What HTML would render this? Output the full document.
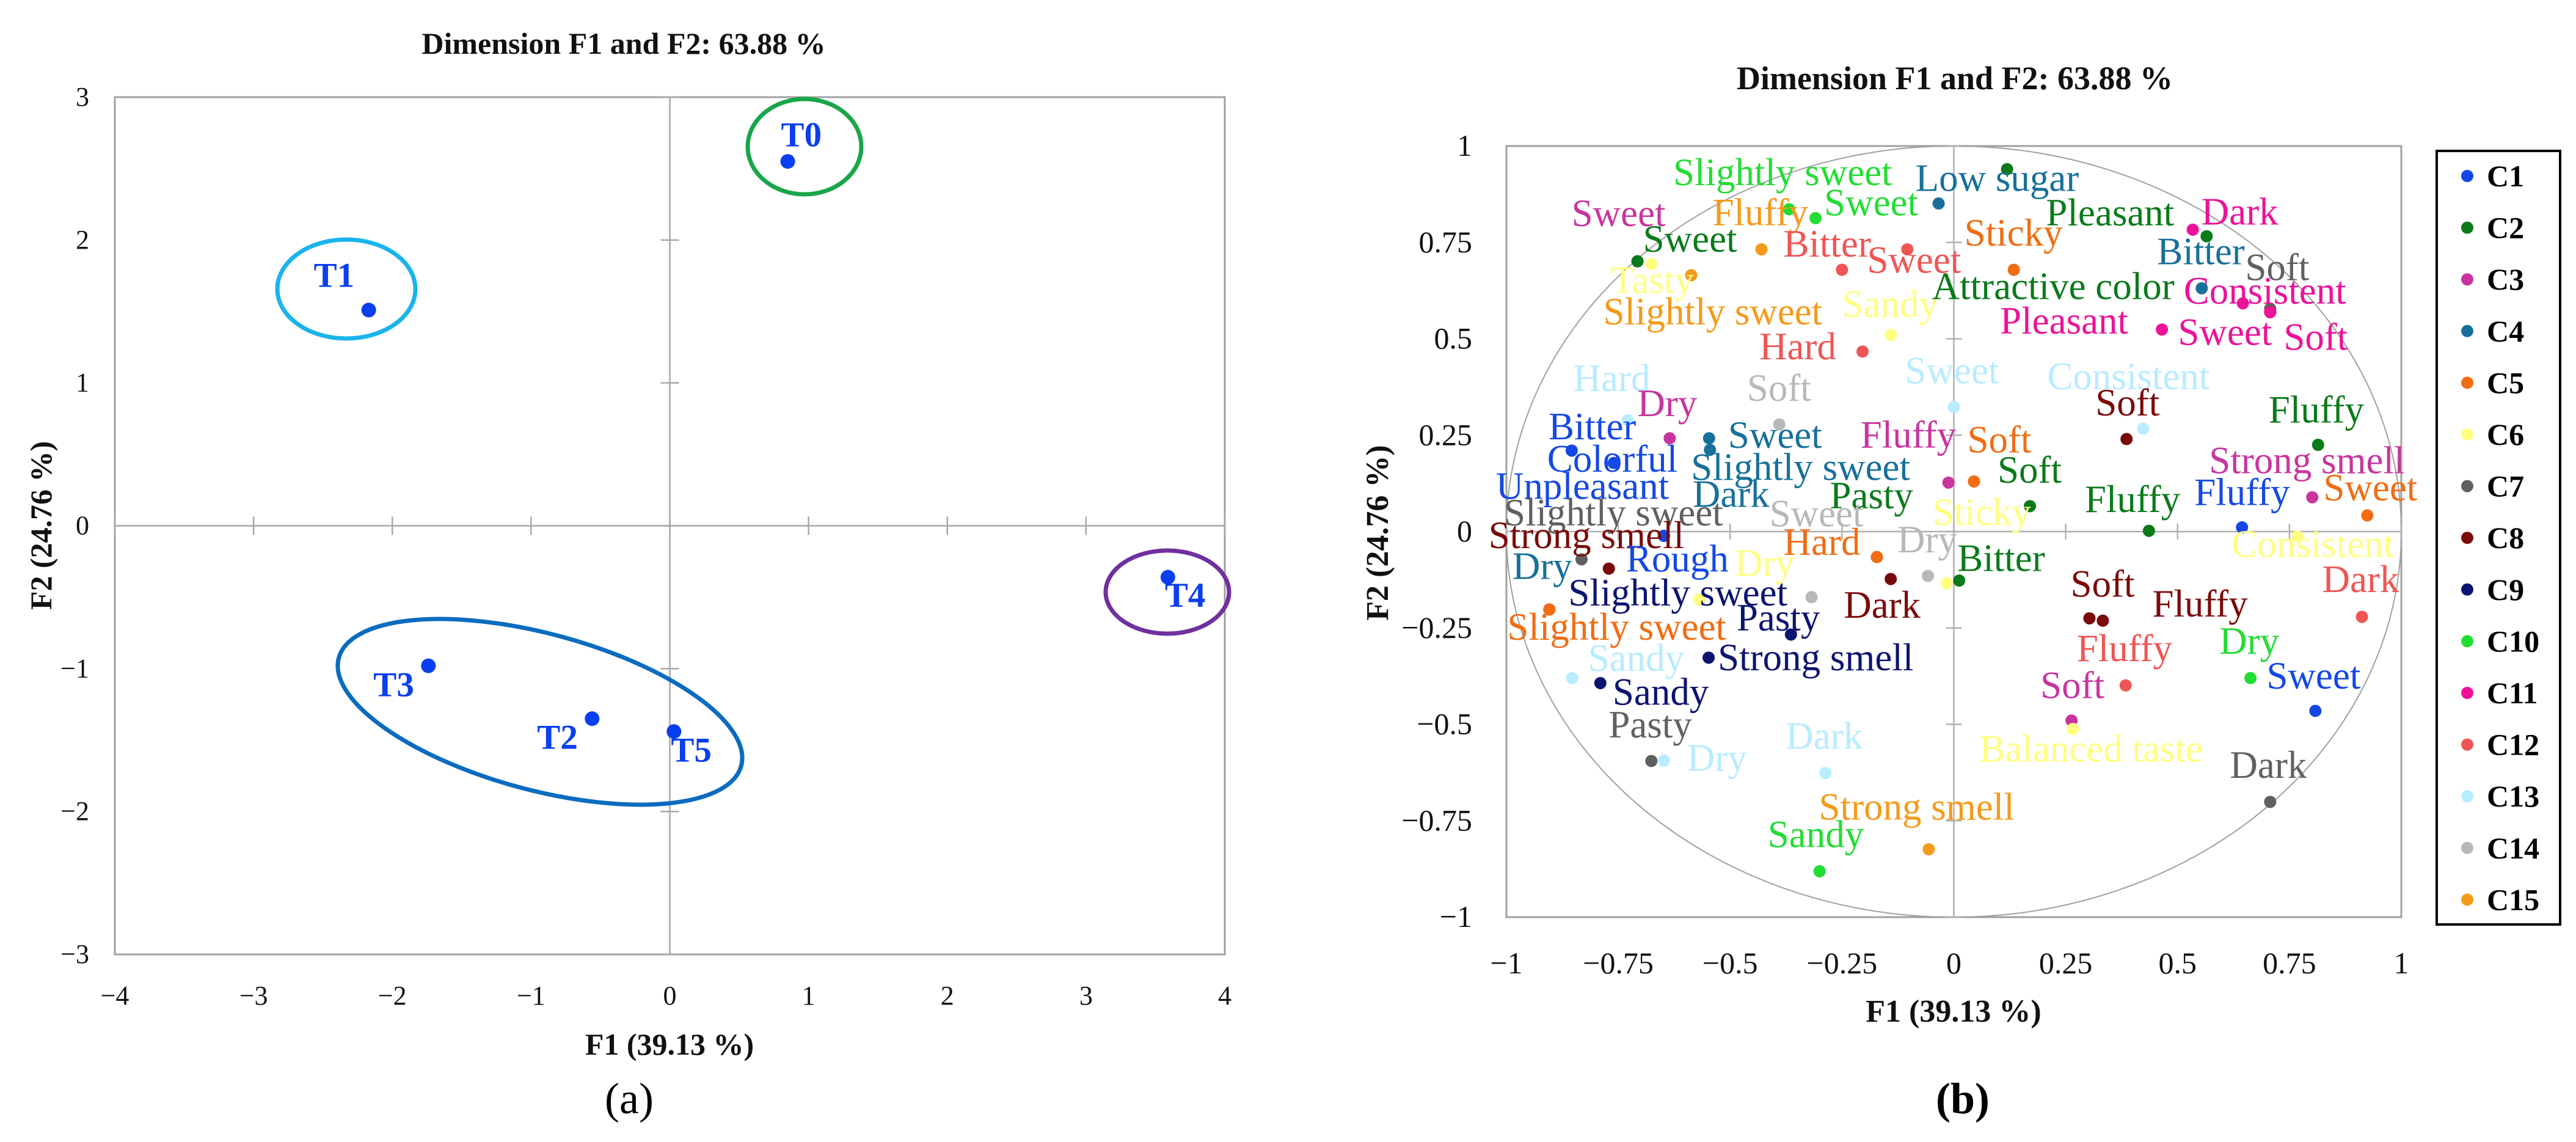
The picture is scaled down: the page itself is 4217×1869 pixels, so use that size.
<!DOCTYPE html>
<html><head><meta charset="utf-8"><style>
html,body{margin:0;padding:0;background:#fff;}
svg{display:block;font-family:"Liberation Serif",serif;}
</style></head><body>
<svg id="chart" width="4217" height="1869" viewBox="0 0 4217 1869" xmlns="http://www.w3.org/2000/svg">
<g id="pa"></g>
<g id="pb"></g>
</svg>
<script>
// ---------- Panel (a) data ----------
const aLabels = ["T0","T1","T3","T2","T5","T4"];
const aF1 = [0.85,-2.17,-1.74,-0.56,0.03,3.59];
const aF2 = [2.55,1.51,-0.98,-1.35,-1.44,-0.36];
const aTicksX = [-4,-3,-2,-1,0,1,2,3,4];
const aTicksY = [-3,-2,-1,0,1,2,3];

// ---------- Panel (b) data ----------
const bClasses = ["C1","C2","C3","C4","C5","C6","C7","C8","C9","C10","C11","C12","C13","C14","C15"];
const bClassColors = ["#1448e6","#0a7a1a","#c8359e","#17709a","#f26c12","#ffff80","#606060","#7a0a0a","#0c1470","#22dd33","#ee1199","#f05555","#b8ecff","#b8b8b8","#f59a1a"];
const bLabels = ["Slightly sweet","Low sugar","Sweet","Fluffy","Sweet","Sweet","Bitter","Sweet","Sticky","Pleasant","Dark","Bitter","Soft","Consistent","Tasty","Slightly sweet","Sandy","Attractive color","Pleasant","Sweet","Soft","Hard","Hard","Dry","Soft","Sweet","Consistent","Soft","Fluffy","Bitter","Sweet","Colorful","Slightly sweet","Fluffy","Soft","Soft","Strong smell","Sweet","Unpleasant","Dark","Pasty","Fluffy","Fluffy","Slightly sweet","Sweet","Sticky","Consistent","Strong smell","Dry","Rough","Dry","Hard","Dry","Bitter","Dark","Slightly sweet","Slightly sweet","Pasty","Soft","Fluffy","Dark","Sandy","Strong smell","Sandy","Fluffy","Dry","Sweet","Soft","Balanced taste","Pasty","Dry","Dark","Dark","Strong smell","Sandy"];
const bClassIdx = [10,4,3,15,10,2,12,12,5,2,11,4,7,11,6,15,6,2,11,11,11,12,13,3,14,13,13,8,2,1,4,1,4,3,5,2,3,5,1,4,2,2,1,7,14,6,6,8,4,1,6,5,14,2,8,9,5,9,8,8,12,13,9,9,12,10,1,3,6,7,13,13,7,15,10];
const bF1 = [-0.368,-0.034,-0.707,-0.430,-0.309,-0.707,-0.250,-0.104,0.134,0.565,0.534,0.554,0.707,0.646,-0.676,-0.587,-0.141,0.119,0.465,0.707,0.707,-0.204,-0.729,-0.635,-0.390,0.0,0.423,0.386,0.814,-0.854,-0.547,-0.760,-0.545,-0.012,0.045,0.170,0.801,0.924,-0.648,-0.648,-0.172,0.436,0.644,-0.832,-0.318,-0.016,0.768,-0.771,-0.648,-0.648,-0.569,-0.172,-0.058,0.012,-0.141,-0.904,-0.904,-0.364,0.303,0.333,0.912,-0.853,-0.548,-0.790,0.384,0.663,0.808,0.263,0.266,-0.676,-0.648,-0.287,0.707,-0.056,-0.300];
const bF2 = [0.836,0.851,0.701,0.732,0.813,0.701,0.679,0.732,0.679,0.766,0.783,0.631,0.578,0.592,0.694,0.665,0.510,0.940,0.524,0.569,0.569,0.467,0.289,0.242,0.278,0.323,0.267,0.240,0.225,0.210,0.242,0.178,0.212,0.127,0.130,0.066,0.089,0.042,-0.011,-0.011,-0.066,0.002,0.011,-0.072,-0.170,-0.134,-0.013,-0.096,-0.011,-0.011,-0.176,-0.066,-0.115,-0.127,-0.123,-0.202,-0.202,-0.267,-0.225,-0.231,-0.221,-0.380,-0.327,-0.393,-0.399,-0.380,-0.465,-0.490,-0.512,-0.595,-0.594,-0.626,-0.701,-0.824,-0.881];
// label offsets (pixels, styling only)
const bLabDX = [-190,-38,-108,-80,14,9,-96,-66,-81,-263,14,-73,-41,-97,-66,-144,-80,-123,-265,-151,22,-169,-89,-53,-53,-80,-157,-51,-81,-38,31,-109,-31,-144,-11,-53,-169,-72,-275,47,-77,-105,-78,-127,-69,-23,-108,-197,-248,-62,58,-153,-50,-3,-77,31,-69,-89,-31,81,-65,26,15,20,-80,-51,-80,-51,-153,-70,38,-65,-66,-180,-85];
const bLabDY = [-54,-35,-72,-54,-19,-30,-36,24,-54,-32,-23,-54,-61,-14,33,66,-44,198,-8,39,47,-2,-62,-51,-53,-53,-79,-53,-51,-33,1,0,35,-72,-62,-53,-54,-39,-75,-62,-94,-45,-51,-70,-130,-110,19,-48,56,44,-53,-18,-53,-30,49,-21,35,-21,-50,-21,-55,-26,6,21,-54,-54,-51,-51,39,-53,2,-54,-54,-63,-54];
const bTicks = [-1,-0.75,-0.5,-0.25,0,0.25,0.5,0.75,1];
const bTickText = ["\u22121","\u22120.75","\u22120.5","\u22120.25","0","0.25","0.5","0.75","1"];

const NS="http://www.w3.org/2000/svg";
function mk(parent,tag,attrs,text){const e=document.createElementNS(NS,tag);for(const k in attrs)e.setAttribute(k,attrs[k]);if(text!==undefined)e.textContent=text;parent.appendChild(e);return e;}

// ---------- Panel A ----------
(function(){
const g=document.getElementById('pa');
const L=188,R=2005,T=159,B=1562;
const sx=v=>L+(v+4)/8*(R-L), sy=v=>T+(3-v)/6*(B-T);
let e;
e=mk(g,'rect',{x:L,y:T,width:R-L,height:B-T,fill:'none',stroke:'#a0a0a0','stroke-width':3});


e=mk(g,'line',{x1:L,x2:R,y1:sy(0),y2:sy(0),stroke:'#a8a8a8','stroke-width':2.5});


e=mk(g,'line',{x1:sx(0),x2:sx(0),y1:T,y2:B,stroke:'#a8a8a8','stroke-width':2.5});


aTicksX.forEach(v=>{
  e=mk(g,'line',{x1:sx(v),x2:sx(v),y1:sy(0)-15,y2:sy(0)+15,stroke:'#a8a8a8','stroke-width':2.5});
  
  
  e=mk(g,'text',{x:sx(v),y:B+82,'text-anchor':'middle','font-size':44,fill:'#111'},v<0?'\u2212'+(-v):String(v));
  
  
});
aTicksY.forEach(v=>{
  e=mk(g,'line',{x1:sx(0)-15,x2:sx(0)+15,y1:sy(v),y2:sy(v),stroke:'#a8a8a8','stroke-width':2.5});
  
  
  e=mk(g,'text',{x:L-42,y:sy(v)+14,'text-anchor':'end','font-size':44,fill:'#111'},v<0?'\u2212'+(-v):String(v));
  
  
});
e=mk(g,'text',{x:1021,y:88,'text-anchor':'middle','font-size':50,'font-weight':'bold',fill:'#111'},'Dimension F1 and F2: 63.88 %');


e=mk(g,'text',{x:1096,y:1726,'text-anchor':'middle','font-size':50,'font-weight':'bold',fill:'#111'},'F1 (39.13 %)');


e=mk(g,'text',{x:0,y:0,'text-anchor':'middle','font-size':50,'font-weight':'bold',fill:'#111',transform:'translate(84,860) rotate(-90)'},'F2 (24.76 %)');


e=mk(g,'text',{x:1030,y:1822,'text-anchor':'middle','font-size':72,fill:'#000'},'(a)');


// group ellipses
const ell=[[1317,240,93,78,0,'#19a64a'],[567,473,113,81,0,'#1ab4ec'],[1911,969,101,68,0,'#7030a0'],[884,1165,341,128,15,'#0b6cbf']];
const en=['ellipse-t0','ellipse-t1','ellipse-t4','ellipse-t2-t3-t5'];
ell.forEach((c,i)=>{
  e=mk(g,'ellipse',{cx:c[0],cy:c[1],rx:c[2],ry:c[3],fill:'none',stroke:c[5],'stroke-width':7,transform:`rotate(${c[4]} ${c[0]} ${c[1]})`});
  
  
});
const ldx=[-11,-90,-90,-90,-5,-5], ldy=[-38,-51,37,36,36,35];
aLabels.forEach((lab,i)=>{
  e=mk(g,'circle',{cx:sx(aF1[i]),cy:sy(aF2[i]),r:12,fill:'#0a3ff0'});
  
  
  e=mk(g,'text',{x:sx(aF1[i])+ldx[i],y:sy(aF2[i])+ldy[i],'dominant-baseline':'middle','font-size':57,'font-weight':'bold',fill:'#0a3ff0'},lab);
  
  
});
})();

// ---------- Panel B ----------
(function(){
const g=document.getElementById('pb');
const L=2466,R=3931,T=239,B=1501;
const sx=v=>L+(v+1)/2*(R-L), sy=v=>T+(1-v)/2*(B-T);
let e;
e=mk(g,'rect',{x:L,y:T,width:R-L,height:B-T,fill:'none',stroke:'#a0a0a0','stroke-width':3});


e=mk(g,'ellipse',{cx:sx(0),cy:sy(0),rx:sx(1)-sx(0),ry:sy(0)-sy(1),fill:'none',stroke:'#a0a0a0','stroke-width':2});


e=mk(g,'line',{x1:L,x2:R,y1:sy(0),y2:sy(0),stroke:'#b0b0b0','stroke-width':2.5});


e=mk(g,'line',{x1:sx(0),x2:sx(0),y1:T,y2:B,stroke:'#b0b0b0','stroke-width':2.5});


bTicks.forEach((v,i)=>{
  e=mk(g,'line',{x1:sx(v),x2:sx(v),y1:sy(0)-13,y2:sy(0)+13,stroke:'#b0b0b0','stroke-width':2.5});
  
  
  e=mk(g,'line',{x1:sx(0)-13,x2:sx(0)+13,y1:sy(v),y2:sy(v),stroke:'#b0b0b0','stroke-width':2.5});
  
  
  e=mk(g,'text',{x:sx(v),y:B+92,'text-anchor':'middle','font-size':50,fill:'#111'},bTickText[i]);
  
  
  e=mk(g,'text',{x:2410,y:sy(v)+16,'text-anchor':'end','font-size':50,fill:'#111'},bTickText[i]);
  
  
});
e=mk(g,'text',{x:3200,y:146,'text-anchor':'middle','font-size':54,'font-weight':'bold',fill:'#111'},'Dimension F1 and F2: 63.88 %');


e=mk(g,'text',{x:3198,y:1672,'text-anchor':'middle','font-size':52,'font-weight':'bold',fill:'#111'},'F1 (39.13 %)');


e=mk(g,'text',{x:0,y:0,'text-anchor':'middle','font-size':52,'font-weight':'bold',fill:'#111',transform:'translate(2272,872) rotate(-90)'},'F2 (24.76 %)');


e=mk(g,'text',{x:3213,y:1822,'text-anchor':'middle','font-size':72,'font-weight':'bold',fill:'#000'},'(b)');


// points and labels
bLabels.forEach((lab,i)=>{
  const col=bClassColors[bClassIdx[i]-1];
  e=mk(g,'circle',{cx:sx(bF1[i]),cy:sy(bF2[i]),r:10,fill:col});
  
  
});
bLabels.forEach((lab,i)=>{
  const col=bClassColors[bClassIdx[i]-1];
  e=mk(g,'text',{x:sx(bF1[i])+bLabDX[i],y:sy(bF2[i])+bLabDY[i],'dominant-baseline':'middle','font-size':63,fill:col},lab);
  
  
});
// legend
e=mk(g,'rect',{x:3989,y:247,width:202,height:1266,fill:'#fff',stroke:'#000','stroke-width':4});


bClasses.forEach((c,i)=>{
  const y=288+84.6*i;
  e=mk(g,'circle',{cx:4039,cy:y,r:10,fill:bClassColors[i]});
  
  
  e=mk(g,'text',{x:4071,y:y+17,'font-size':50,'font-weight':'bold',fill:'#000'},c);
  
  
});
})();
</script>
</body></html>
